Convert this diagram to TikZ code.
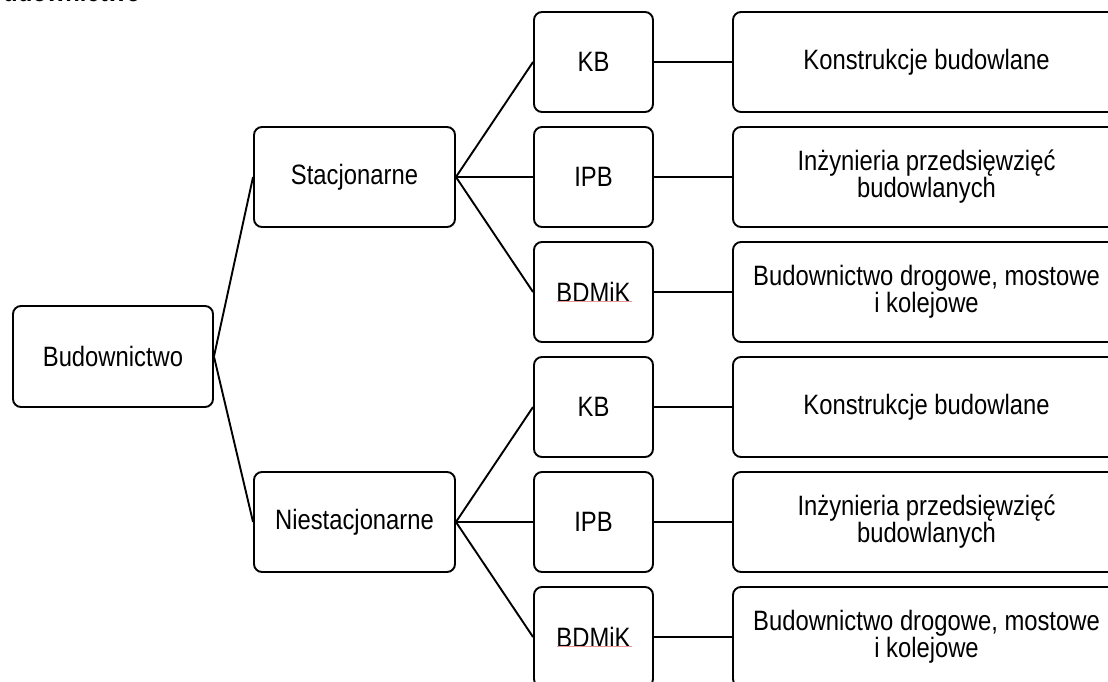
\documentclass[tikz,border=0pt]{standalone}
\usepackage{fontspec}
\setmainfont{Liberation Sans}[FakeStretch=0.85]
\usetikzlibrary{calc}
\begin{document}
\begin{tikzpicture}[x=1pt,y=-1pt,
  box/.style={draw=black, line width=1.9pt, rounded corners=8pt, rectangle,
    align=center, inner sep=0pt, font=\fontsize{28}{25}\selectfont},
  rootbox/.style={box, minimum width=200pt, minimum height=101pt},
  modebox/.style={box, minimum width=201pt, minimum height=100pt},
  codebox/.style={box, minimum width=119pt, minimum height=100pt},
  longbox/.style={box, minimum width=387pt, minimum height=100pt},
  link/.style={draw=black, line width=1.9pt},
  squiggle/.style={draw={rgb,255:red,232;green,150;blue,150}, line width=0.8pt}
]
\useasboundingbox (0,0) rectangle (1108,682);
\clip (0,0) rectangle (1108,682);

\node[anchor=base west, font=\fontsize{28}{25}\selectfont\bfseries] (title) at (-17.5,1.5) {Budownictwo};

\node[rootbox] (root) at (113,356.5) {Budownictwo};
\node[modebox] (stac) at (354.5,177) {Stacjonarne};
\node[modebox] (nies) at (354.5,522) {Niestacjonarne};

\node[codebox] (kb1) at (593.5,62) {KB};
\node[codebox] (ipb1) at (593.5,177) {IPB};
\node[codebox] (bd1) at (593.5,292) {BDMiK};
\node[codebox] (kb2) at (593.5,407) {KB};
\node[codebox] (ipb2) at (593.5,522) {IPB};
\node[codebox] (bd2) at (593.5,637) {BDMiK};

\node[longbox] (l1) at (926.5,62) {Konstrukcje budowlane};
\node[longbox] (l2) at (926.5,177) {Inżynieria przedsięwzięć\\budowlanych};
\node[longbox] (l3) at (926.5,292) {Budownictwo drogowe, mostowe\\i kolejowe};
\node[longbox] (l4) at (926.5,407) {Konstrukcje budowlane};
\node[longbox] (l5) at (926.5,522) {Inżynieria przedsięwzięć\\budowlanych};
\node[longbox] (l6) at (926.5,637) {Budownictwo drogowe, mostowe\\i kolejowe};

\draw[link] (root.east) -- (stac.west);
\draw[link] (root.east) -- (nies.west);
\draw[link] (stac.east) -- (kb1.west);
\draw[link] (stac.east) -- (ipb1.west);
\draw[link] (stac.east) -- (bd1.west);
\draw[link] (nies.east) -- (kb2.west);
\draw[link] (nies.east) -- (ipb2.west);
\draw[link] (nies.east) -- (bd2.west);
\draw[link] (kb1.east) -- (l1.west);
\draw[link] (ipb1.east) -- (l2.west);
\draw[link] (bd1.east) -- (l3.west);
\draw[link] (kb2.east) -- (l4.west);
\draw[link] (ipb2.east) -- (l5.west);
\draw[link] (bd2.east) -- (l6.west);

\draw[squiggle] ($(bd1.center)+(-37,9.5)$) -- ($(bd1.center)+(38,9.5)$);
\draw[squiggle] ($(bd2.center)+(-37,9.5)$) -- ($(bd2.center)+(38,9.5)$);
\end{tikzpicture}
\end{document}
